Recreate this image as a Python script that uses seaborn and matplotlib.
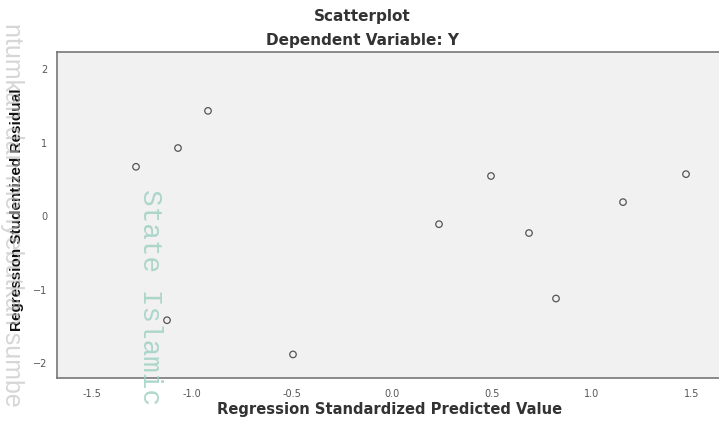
import matplotlib.pyplot as plt
import pandas as pd
import seaborn as sns

sns.set_theme(style="white")
plt.rcParams['font.family'] = ['Liberation Sans', 'DejaVu Sans']

# values
predicted = [-1.28, -1.07, -0.92, -1.125, -0.495, 0.235, 0.495, 0.685, 0.82, 1.155, 1.47]
residual = [0.67, 0.925, 1.43, -1.415, -1.88, -0.11, 0.545, -0.23, -1.12, 0.19, 0.57]
x_ticks = [-1.5, -1.0, -0.5, 0.0, 0.5, 1.0, 1.5]
y_ticks = [-2, -1, 0, 1, 2]

df = pd.DataFrame({'pred': predicted, 'resid': residual})

fig = plt.figure(figsize=(7.19, 4.21), dpi=100)
ax = fig.add_axes([57 / 719, 43 / 421, 662 / 719, 326 / 421])
ax.set_facecolor('#f1f1f1')

sns.scatterplot(data=df, x='pred', y='resid', ax=ax, marker='o', s=22,
                facecolor='none', edgecolor='#555555', linewidth=0.9, zorder=3)

ax.set_xlim(-1.675, 1.635)
ax.set_ylim(-2.2, 2.23)
ax.set_xticks(x_ticks)
ax.set_xticklabels([f'{t:.1f}' for t in x_ticks])
ax.set_yticks(y_ticks)
ax.tick_params(axis='both', direction='out', length=5, width=1, color='#666666',
               labelsize=7, labelcolor='#555555', pad=2)
ax.tick_params(axis='x', pad=3)
for lab in ax.get_xticklabels() + ax.get_yticklabels():
    lab.set_family('DejaVu Sans')

for side in ['left', 'bottom', 'top']:
    ax.spines[side].set_color('#777777')
    ax.spines[side].set_linewidth(1.2)
ax.spines['right'].set_visible(False)

ax.set_xlabel('Regression Standardized Predicted Value', fontsize=10.6, fontweight='bold',
              color='#333333', family='DejaVu Sans')
ax.xaxis.set_label_coords((390 - 57) / 662, -0.075)
ax.set_ylabel('Regression Studentized Residual', fontsize=11, fontweight='bold',
              color='#111111', family=['Liberation Sans Narrow', 'Liberation Sans', 'DejaVu Sans'])
ax.yaxis.set_label_coords(-(57 - 24) / 662, (421 - 210 - 43) / 326)

fig.text(362 / 719, 1 - 16 / 421, 'Scatterplot', ha='center', va='center',
         fontsize=11, fontweight='bold', color='#333333', family='DejaVu Sans')
fig.text(362 / 719, 1 - 41 / 421, 'Dependent Variable: Y', ha='center', va='center',
         fontsize=11, fontweight='bold', color='#333333', family='DejaVu Sans')

# faint document watermark
fig.text(150 / 719, 1 - 297 / 421, 'State Islamic', rotation=-90, ha='center', va='center',
         fontsize=20, color='#9ccfc0', alpha=0.8, family=['Liberation Mono', 'DejaVu Sans Mono'],
         zorder=0)
fig.text(12 / 719, 1 - 215 / 421, 'ntumkan dan menyebutkan sumbe', rotation=-90, ha='center',
         va='center', fontsize=18, color='#bbbbbb', alpha=0.6, zorder=0)

fig.savefig('out.png', dpi=100)
